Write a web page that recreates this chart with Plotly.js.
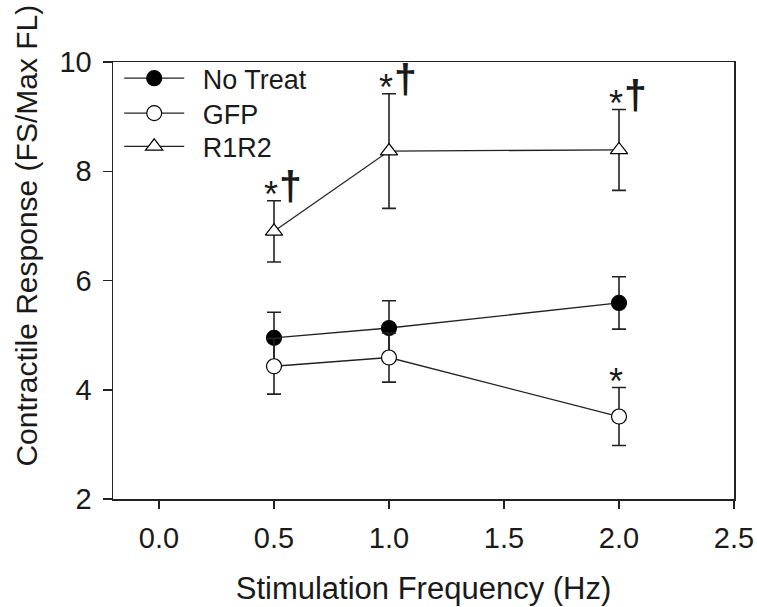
<!DOCTYPE html>
<html>
<head>
<meta charset="utf-8">
<script src="https://cdn.plot.ly/plotly-3.0.1.min.js"></script>
<style>html,body{margin:0;padding:0;background:#fff;}#chart{width:757px;height:607px;}</style>
</head>
<body>
<div id="chart"></div>
<script>
// Data
const frequency = [0.5, 1.0, 2.0];
const noTreat = [4.95, 5.13, 5.59];
const noTreatErr = [0.47, 0.50, 0.48];
const gfp = [4.43, 4.59, 3.51];
const gfpErr = [0.51, 0.45, 0.53];
const r1r2 = [6.90, 8.37, 8.39];
const r1r2Err = [0.56, 1.05, 0.74];
const seriesNames = ["No Treat", "GFP", "R1R2"];
const xTickVals = [0, 0.5, 1.0, 1.5, 2.0, 2.5];
const xTickText = ["0.0", "0.5", "1.0", "1.5", "2.0", "2.5"];
const yTickVals = [2, 4, 6, 8, 10];
const xTitle = "Stimulation Frequency (Hz)";
const yTitle = "Contractile Response (FS/Max FL)";
// significance marks: series index and point index
const starMarks = [[2, 0], [2, 1], [2, 2], [1, 2]];
const daggerMarks = [[2, 0], [2, 1], [2, 2]];

const font = "Liberation Sans, Arial, sans-serif";
const ink = "#1a1a1a";
const means = [noTreat, gfp, r1r2];
const errs = [noTreatErr, gfpErr, r1r2Err];
const legendIds = ["legend", "legend2", "legend3"];
const legendY = [0.962, 0.882, 0.806];

const styles = [
  {symbol: "circle", size: 15, color: "#000000", line: {color: "#000", width: 1.2}},
  {symbol: "circle", size: 15, color: "#ffffff", line: {color: "#000", width: 1.2}},
  {symbol: "triangle-up", size: 15, color: "#ffffff", line: {color: "#000", width: 1.2}}
];

const traces = means.map((m, i) => ({
  type: "scatter",
  mode: "lines+markers",
  name: "\u2002" + seriesNames[i],
  legend: legendIds[i],
  x: frequency,
  y: m,
  line: {color: "#222", width: 1.3},
  marker: styles[i],
  error_y: {type: "data", array: errs[i], visible: true, color: "#222", thickness: 1.6, width: 7}
}));

const annotations = [];
starMarks.forEach(([s, p]) => {
  annotations.push({
    x: frequency[p], y: means[s][p] + errs[s][p], xref: "x", yref: "y",
    text: "*", showarrow: false, xanchor: "center", yanchor: "middle",
    xshift: -3, yshift: 6, font: {family: font, size: 36, color: ink}
  });
});
daggerMarks.forEach(([s, p]) => {
  annotations.push({
    x: frequency[p], y: means[s][p] + errs[s][p], xref: "x", yref: "y",
    text: "<b>†</b>", showarrow: false, xanchor: "center", yanchor: "middle",
    xshift: 16, yshift: 15, font: {family: font, size: 41, color: ink}
  });
});
annotations.push({
  xref: "paper", yref: "paper", x: -0.14, y: 0.603,
  xanchor: "center", yanchor: "middle", textangle: -90,
  text: yTitle, showarrow: false, font: {family: font, size: 30, color: ink}
});

const legendBase = {
  x: 0.01, xanchor: "left", yanchor: "middle",
  font: {family: font, size: 27, color: ink},
  bgcolor: "rgba(0,0,0,0)", itemwidth: 60
};

const layout = {
  width: 757, height: 607,
  margin: {l: 113, r: 23, t: 61.5, b: 108, pad: 0},
  paper_bgcolor: "#fff", plot_bgcolor: "#fff",
  font: {family: font, color: ink},
  showlegend: true,
  legend: Object.assign({}, legendBase, {y: legendY[0]}),
  legend2: Object.assign({}, legendBase, {y: legendY[1]}),
  legend3: Object.assign({}, legendBase, {y: legendY[2]}),
  xaxis: {
    range: [-0.2, 2.5], tickvals: xTickVals, ticktext: xTickText,
    ticks: "outside", ticklen: 8, tickwidth: 1.5, tickcolor: "#222",
    ticklabelstandoff: 5,
    showline: true, linecolor: "#222", linewidth: 1.5, mirror: true,
    showgrid: false, zeroline: false,
    tickfont: {family: font, size: 29, color: ink},
    title: {text: xTitle, font: {family: font, size: 31, color: ink}, standoff: 24}
  },
  yaxis: {
    range: [2, 10], tickvals: yTickVals,
    ticks: "outside", ticklen: 9, tickwidth: 1.5, tickcolor: "#222",
    ticklabelstandoff: 5,
    showline: true, linecolor: "#222", linewidth: 1.5, mirror: true,
    showgrid: false, zeroline: false,
    tickfont: {family: font, size: 29, color: ink}
  },
  annotations: annotations
};

Plotly.newPlot("chart", traces, layout, {displayModeBar: false, staticPlot: true});
</script>
</body>
</html>
